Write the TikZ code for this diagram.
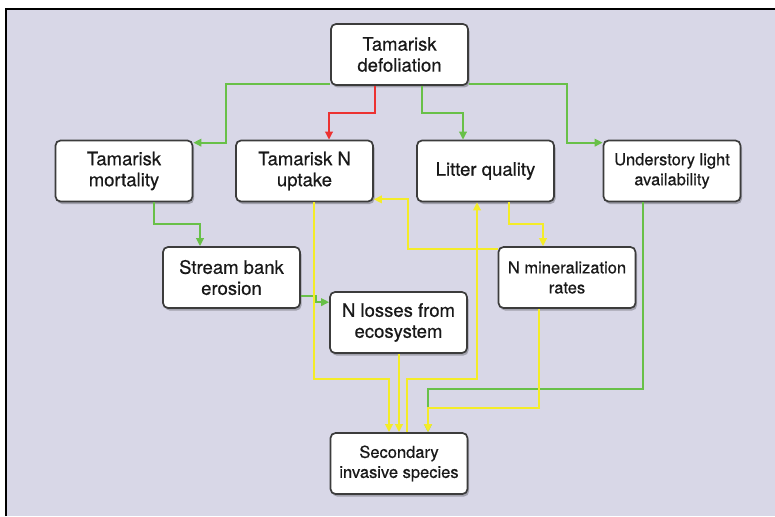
\documentclass[tikz,border=0pt]{standalone}
\usepackage{fontspec}
\setmainfont{TeX Gyre Heros}[FakeBold=0.5]
\usepackage{tikz}
\usetikzlibrary{arrows.meta,shadows}

\definecolor{lavender}{RGB}{216,215,231}
\definecolor{boxline}{RGB}{60,60,60}
\definecolor{gr}{RGB}{104,192,72}
\definecolor{yl}{RGB}{244,236,40}
\definecolor{rd}{RGB}{236,50,50}

\begin{document}
\begin{tikzpicture}[x=1pt, y=-1pt,
    box/.style = {draw = boxline, line width = 1.7pt, fill = white,
        rounded corners = 5pt, minimum width = 137pt, minimum height = 61pt,
        inner sep = 0pt, align = center, text = black!90,
        font = \fontsize{18.5}{21}\selectfont,
        drop shadow = {shadow xshift = 1.5pt, shadow yshift = -2.5pt,
            opacity = .25, fill = black}},
    smallbox/.style = {box, font = \fontsize{16.5}{20}\selectfont},
    link/.style = {line width = 2pt, -{Triangle[length=8pt,width=7.5pt]}}]

\useasboundingbox (0,0) rectangle (775,516);

% Panel
\fill [lavender] (6,9) rectangle (775,516);
\draw [line width = 1.5pt] (6,516) -- (6,9) -- (775,9);

% Boxes
\node [box] (defol) at (399.5,54.5) {Tamarisk\\defoliation};
\node [box] (mort) at (124,171) {Tamarisk\\mortality};
\node [box] (uptake) at (304.5,171) {Tamarisk N\\uptake};
\node [box] (litter) at (485.5,171) {Litter quality};
\node [smallbox] (light) at (672,171) {Understory light\\availability};
\node [box] (erosion) at (231.5,277.5) {Stream bank\\erosion};
\node [box] (loss) at (398.5,322.5) {N losses from\\ecosystem};
\node [smallbox] (mineral) at (567,277.5) {N mineralization\\rates};
\node [smallbox] (second) at (399,463.5) {Secondary\\invasive species};

% Defoliation effects
\draw [link, gr] ([yshift=2pt]defol.south west)
    -| ([xshift=32.5pt,yshift=-3pt]mort.north east)
    -- ([yshift=-3pt]mort.north east);
\draw [link, rd] ([xshift=-24.5pt]defol.south) -- ++(0,27)
    -| ([xshift=24.5pt]uptake.north);
\draw [link, gr] ([xshift=22.5pt]defol.south) -- ++(0,27)
    -| ([xshift=-22.5pt]litter.north);
\draw [link, gr] ([yshift=2pt]defol.south east)
    -| ([xshift=-35.5pt,yshift=-3pt]light.north west)
    -- ([yshift=-3pt]light.north west);

% Mortality and erosion
\draw [link, gr] ([xshift=30pt]mort.south) -- ++(0,21.5)
    -| ([xshift=-31.5pt]erosion.north);
\draw [link, gr] ([yshift=-18.5pt]erosion.east) -- ++(15,0)
    |- ([yshift=-11pt]loss.north west);

% Nitrogen cycling
\draw [link, yl] ([xshift=23pt]litter.south) -- ++(0,21.5)
    -| ([xshift=-24pt]mineral.north);
\draw [link, yl] ([yshift=-3pt]mineral.north west)
    -| ([xshift=34pt,yshift=3pt]uptake.south east)
    -- ([yshift=3pt]uptake.south east);

% Paths to secondary invasion
\draw [link, yl] ([xshift=9.5pt]uptake.south) -- ++(0,176.5)
    -| ([xshift=-10pt]second.north);
\draw [link, yl] ([xshift=0.5pt]loss.south) -- (second.north);
\draw [link, yl] ([xshift=8pt]second.north) -- ++(0,-53)
    -| ([xshift=-8.5pt]litter.south);
\draw [link, gr] ([xshift=-29pt]light.south) -- ++(0,186.5)
    -| ([xshift=29pt]second.north);
\draw [link, yl] ([xshift=-28pt]mineral.south) -- ++(0,99)
    -| ([xshift=29pt]second.north);

\end{tikzpicture}
\end{document}
